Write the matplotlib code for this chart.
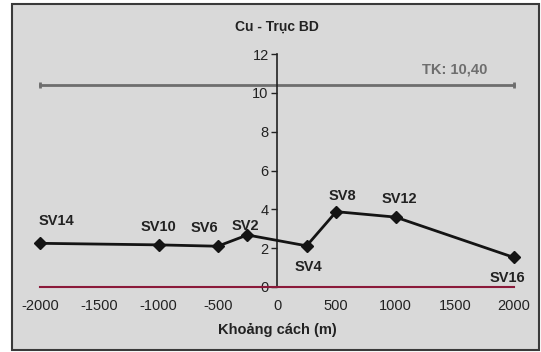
import matplotlib
matplotlib.use('Agg')
import matplotlib.pyplot as plt
from matplotlib.patches import Rectangle

plt.rcParams['font.family'] = ['Liberation Sans', 'DejaVu Sans']
plt.rcParams['axes.unicode_minus'] = False

# du lieu
stations = ['SV14', 'SV10', 'SV6', 'SV2', 'SV4', 'SV8', 'SV12', 'SV16']
distance = [-2000, -1000, -500, -250, 250, 500, 1000, 2000]
cu = [2.25, 2.17, 2.1, 2.68, 2.12, 3.88, 3.6, 1.52]
tk_value = 10.4
tk_label = 'TK: 10,40'
x_ticks = [-2000, -1500, -1000, -500, 0, 500, 1000, 1500, 2000]
y_ticks = [0, 2, 4, 6, 8, 10, 12]

# vi tri nhan (pixel) so voi diem
label_offsets = {
    'SV14': (16, 22), 'SV10': (0, 18), 'SV6': (-13, 18), 'SV2': (-2, 9),
    'SV4': (2, -21), 'SV8': (6, 16), 'SV12': (4, 18), 'SV16': (-7, -21),
}

fig = plt.figure(figsize=(5.41, 3.52), dpi=100)
fig.patch.set_facecolor('white')
fig.patches.append(Rectangle((12 / 541, 2 / 352), 527 / 541, 346 / 352,
                             transform=fig.transFigure, facecolor='#d9d9d9',
                             edgecolor='#3a3a3a', linewidth=1.5, zorder=-10))

ax = fig.add_axes([16.3 / 541, 65 / 352, 521.4 / 541, 233 / 352])
ax.set_zorder(5)
ax.patch.set_visible(False)
ax.set_xlim(-2200, 2200)
ax.set_ylim(0, 12)

for s in ['top', 'right']:
    ax.spines[s].set_visible(False)
ax.spines['left'].set_position(('data', 0))
ax.spines['left'].set_color('#222222')
ax.spines['left'].set_linewidth(1.2)
ax.spines['bottom'].set_color('#8b1a3a')
ax.spines['bottom'].set_linewidth(1.5)
ax.spines['bottom'].set_bounds(-2000, 2000)

ax.set_xticks(x_ticks)
ax.set_yticks(y_ticks)
ax.tick_params(axis='y', direction='out', length=4, width=1, color='#222222',
               labelsize=10.5, labelcolor='#222222', pad=2)
ax.tick_params(axis='x', direction='out', length=0, labelsize=10.5,
               labelcolor='#222222', pad=9)

# duong TK
ax.plot([x_ticks[0], x_ticks[-1]], [tk_value, tk_value], color='#6e6e6e',
        linewidth=2, marker='|', markersize=5, markeredgewidth=2)
ax.text(1500, 11.2, tk_label, color='#6e6e6e', fontsize=10.5,
        fontweight='bold', ha='center', va='center')

ax.plot(distance, cu, color='#141414', linewidth=2, marker='D',
        markersize=6, zorder=5)

for name, x, y in zip(stations, distance, cu):
    dx, dy = label_offsets[name]
    ax.annotate(name, (x, y), xytext=(dx, dy), textcoords='offset pixels',
                ha='center', va='center', fontsize=10.5, fontweight='bold',
                color='#222222', zorder=6)

fig.text(277 / 541, 1 - 27 / 352, 'Cu - Trục BD', ha='center', va='center',
         fontsize=10, fontweight='bold', color='#222222')
fig.text(277 / 541, 1 - 330 / 352, 'Khoảng cách (m)', ha='center', va='center',
         fontsize=10.5, fontweight='bold', color='#222222')

fig.savefig('out.png', dpi=100, facecolor=fig.get_facecolor())
